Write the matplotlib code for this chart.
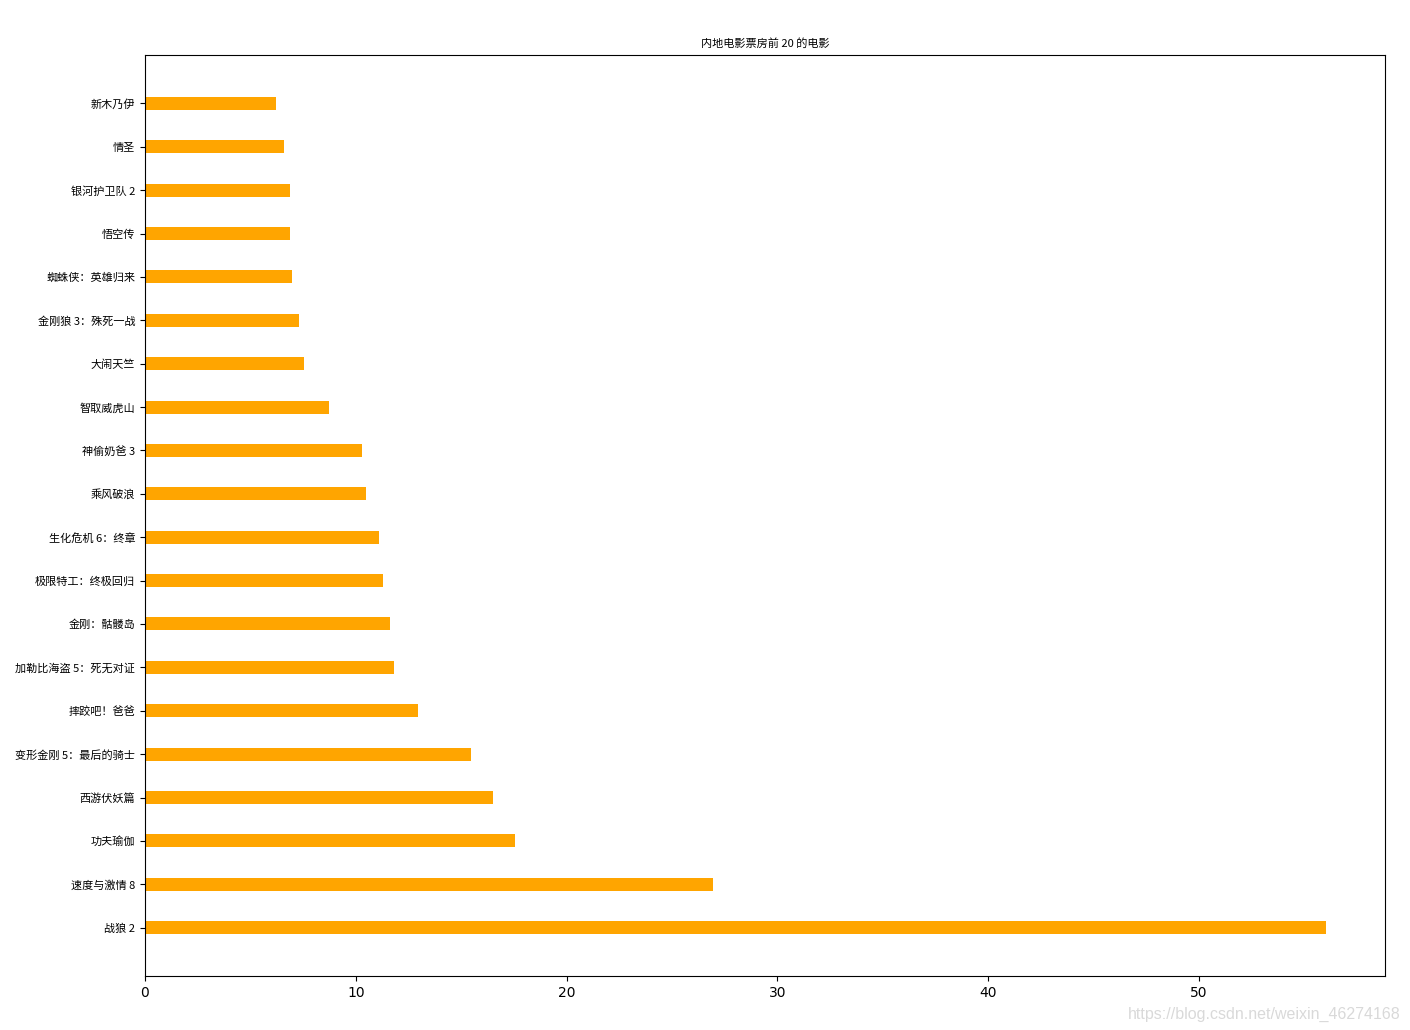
import matplotlib
matplotlib.use("Agg")
import matplotlib.pyplot as plt

movies = ["战狼 2", "速度与激情 8", "功夫瑜伽", "西游伏妖篇", "变形金刚 5：最后的骑士",
          "摔跤吧！爸爸", "加勒比海盗 5：死无对证", "金刚：骷髅岛", "极限特工：终极回归",
          "生化危机 6：终章", "乘风破浪", "神偷奶爸 3", "智取威虎山", "大闹天竺",
          "金刚狼 3：殊死一战", "蜘蛛侠：英雄归来", "悟空传", "银河护卫队 2", "情圣", "新木乃伊"]
box_office = [56.01, 26.94, 17.55, 16.50, 15.46, 12.95, 11.81, 11.62, 11.29, 11.10,
              10.48, 10.29, 8.73, 7.54, 7.31, 6.97, 6.88, 6.88, 6.59, 6.21]
title = "内地电影票房前 20 的电影"
watermark = "https://blog.csdn.net/weixin_46274168"

cjk = ["Noto Sans CJK SC", "DejaVu Sans"]

fig = plt.figure(figsize=(14.1, 10.3), dpi=100)
ax = fig.add_axes([0.1028, 0.0524, 0.8794, 0.8942])
pos = list(range(len(movies)))
ax.barh(pos, box_office, height=0.3, color="orange")
ax.set_yticks(pos)
ax.set_yticklabels(movies, family=cjk, fontsize=8)
ax.set_title(title, family=cjk, fontsize=8)
fig.text(0.993, 0.008, watermark, ha="right", va="bottom", fontsize=11.5,
         color="#d9d9d9", family=["Liberation Sans", "DejaVu Sans"])
fig.savefig("out.png", dpi=100)
